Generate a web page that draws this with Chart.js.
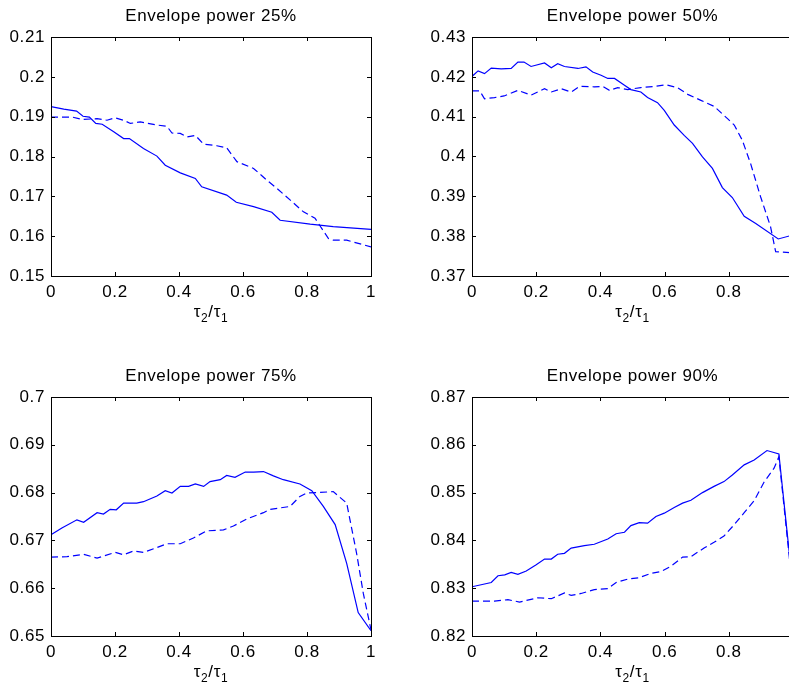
<!DOCTYPE html>
<html>
<head>
<meta charset="utf-8">
<script src="https://cdn.jsdelivr.net/npm/chart.js@4.4.1/dist/chart.umd.min.js"></script>
<style>
  html, body { margin: 0; padding: 0; background: #fff; overflow: hidden; width: 789px; height: 688px; }
  canvas { position: absolute; }
</style>
</head>
<body>
<canvas id="p25" width="400" height="340" style="left:0;top:0"></canvas>
<canvas id="p50" width="420" height="340" style="left:395px;top:0"></canvas>
<canvas id="p75" width="400" height="348" style="left:0;top:340px"></canvas>
<canvas id="p90" width="420" height="348" style="left:395px;top:340px"></canvas>
<script>
// ==================== DATA ====================
const titles = ["Envelope power 25%", "Envelope power 50%", "Envelope power 75%", "Envelope power 90%"];
const xTicks = [0, 0.2, 0.4, 0.6, 0.8, 1];
const yTicks25 = [0.15, 0.16, 0.17, 0.18, 0.19, 0.2, 0.21];
const yTicks50 = [0.37, 0.38, 0.39, 0.4, 0.41, 0.42, 0.43];
const yTicks75 = [0.65, 0.66, 0.67, 0.68, 0.69, 0.7];
const yTicks90 = [0.82, 0.83, 0.84, 0.85, 0.86, 0.87];

// 25%
const tau25Solid = [0, 0.04, 0.08, 0.10, 0.12, 0.14, 0.16, 0.196, 0.227, 0.245, 0.289, 0.331, 0.357, 0.404, 0.451, 0.471, 0.549, 0.579, 0.633, 0.69, 0.716, 0.81, 0.882, 1.0];
const env25Solid = [0.1925, 0.1919, 0.1914, 0.1901, 0.1899, 0.1883, 0.1881, 0.1862, 0.1845, 0.1845, 0.1820, 0.1801, 0.1778, 0.1759, 0.1745, 0.1724, 0.1703, 0.1685, 0.1674, 0.1660, 0.1640, 0.1630, 0.1624, 0.1617];
const tau25Dash = [0, 0.066, 0.097, 0.144, 0.175, 0.2, 0.227, 0.248, 0.279, 0.331, 0.362, 0.378, 0.404, 0.425, 0.451, 0.477, 0.518, 0.549, 0.581, 0.633, 0.674, 0.706, 0.747, 0.789, 0.825, 0.867, 0.882, 0.924, 1.0];
const env25Dash = [0.1899, 0.1899, 0.1893, 0.1895, 0.1891, 0.1897, 0.1891, 0.1883, 0.1887, 0.1879, 0.1876, 0.1859, 0.1858, 0.1849, 0.1853, 0.1831, 0.1827, 0.1822, 0.1787, 0.1770, 0.1741, 0.1720, 0.1691, 0.1661, 0.1645, 0.1594, 0.1590, 0.1590, 0.1573];

// 50%
const tau50Solid = [0, 0.019, 0.039, 0.06, 0.091, 0.122, 0.143, 0.162, 0.184, 0.226, 0.247, 0.267, 0.288, 0.33, 0.355, 0.376, 0.402, 0.423, 0.444, 0.475, 0.495, 0.526, 0.547, 0.578, 0.599, 0.63, 0.661, 0.687, 0.718, 0.749, 0.78, 0.811, 0.848, 0.884, 0.954, 1.0];
const env50Solid = [0.4201, 0.4215, 0.4208, 0.4222, 0.4220, 0.4221, 0.4237, 0.4237, 0.4226, 0.4235, 0.4223, 0.4233, 0.4226, 0.4221, 0.4225, 0.4212, 0.4204, 0.4196, 0.4196, 0.4179, 0.4168, 0.4162, 0.4148, 0.4135, 0.4116, 0.4079, 0.4053, 0.4033, 0.3999, 0.3970, 0.3922, 0.3897, 0.3850, 0.3832, 0.3793, 0.3803];
const tau50Dash = [0, 0.024, 0.039, 0.07, 0.10, 0.143, 0.184, 0.226, 0.247, 0.278, 0.309, 0.335, 0.381, 0.407, 0.428, 0.454, 0.485, 0.526, 0.568, 0.604, 0.64, 0.672, 0.713, 0.754, 0.796, 0.817, 0.842, 0.868, 0.899, 0.93, 0.946, 1.0];
const env50Dash = [0.4165, 0.4165, 0.4145, 0.4148, 0.4152, 0.4166, 0.4154, 0.4170, 0.4162, 0.4170, 0.4162, 0.4176, 0.4175, 0.4176, 0.4166, 0.4173, 0.4168, 0.4173, 0.4176, 0.4180, 0.4173, 0.4156, 0.4141, 0.4126, 0.4095, 0.4079, 0.4041, 0.3982, 0.3899, 0.3824, 0.3761, 0.3758];

// 75%
const tau75Solid = [0, 0.034, 0.081, 0.102, 0.144, 0.164, 0.185, 0.204, 0.227, 0.268, 0.289, 0.331, 0.357, 0.378, 0.404, 0.43, 0.451, 0.477, 0.497, 0.529, 0.549, 0.575, 0.607, 0.633, 0.664, 0.695, 0.726, 0.778, 0.815, 0.851, 0.888, 0.924, 0.96, 1.0];
const env75Solid = [0.6712, 0.6726, 0.6743, 0.6738, 0.6758, 0.6755, 0.6765, 0.6764, 0.6778, 0.6778, 0.6781, 0.6793, 0.6804, 0.6799, 0.6813, 0.6813, 0.6818, 0.6813, 0.6823, 0.6827, 0.6836, 0.6832, 0.6843, 0.6843, 0.6844, 0.6835, 0.6827, 0.6818, 0.6804, 0.6771, 0.6733, 0.6652, 0.6549, 0.6511];
const tau75Dash = [0, 0.05, 0.102, 0.144, 0.201, 0.227, 0.258, 0.289, 0.331, 0.362, 0.404, 0.445, 0.487, 0.539, 0.57, 0.612, 0.664, 0.685, 0.747, 0.778, 0.799, 0.882, 0.924, 0.955, 0.976, 1.0];
const env75Dash = [0.6665, 0.6666, 0.6671, 0.6663, 0.6675, 0.6670, 0.6678, 0.6675, 0.6685, 0.6693, 0.6693, 0.6705, 0.6720, 0.6722, 0.6730, 0.6745, 0.6758, 0.6765, 0.6771, 0.6792, 0.6799, 0.6802, 0.6778, 0.6673, 0.6589, 0.6513];

// 90%
const tau90Solid = [0, 0.06, 0.081, 0.102, 0.122, 0.143, 0.169, 0.2, 0.226, 0.247, 0.267, 0.288, 0.309, 0.35, 0.381, 0.423, 0.449, 0.475, 0.495, 0.521, 0.547, 0.573, 0.599, 0.63, 0.656, 0.682, 0.718, 0.754, 0.785, 0.811, 0.848, 0.879, 0.919, 0.956, 1.0];
const env90Solid = [0.8303, 0.8312, 0.8326, 0.8328, 0.8333, 0.8329, 0.8336, 0.8349, 0.8361, 0.8361, 0.8371, 0.8373, 0.8384, 0.8389, 0.8392, 0.8403, 0.8414, 0.8417, 0.8431, 0.8437, 0.8436, 0.8450, 0.8457, 0.8469, 0.8478, 0.8484, 0.8500, 0.8513, 0.8523, 0.8537, 0.8558, 0.8568, 0.8588, 0.8581, 0.8300];
const tau90Dash = [0, 0.07, 0.112, 0.148, 0.205, 0.247, 0.288, 0.309, 0.34, 0.381, 0.423, 0.449, 0.485, 0.521, 0.557, 0.589, 0.62, 0.656, 0.682, 0.723, 0.754, 0.785, 0.817, 0.848, 0.879, 0.91, 0.941, 0.956, 1.0];
const env90Dash = [0.8273, 0.8273, 0.8276, 0.8271, 0.8280, 0.8278, 0.8290, 0.8285, 0.8289, 0.8297, 0.8299, 0.8312, 0.8319, 0.8322, 0.8331, 0.8335, 0.8346, 0.8365, 0.8366, 0.8384, 0.8396, 0.8409, 0.8433, 0.8458, 0.8483, 0.8522, 0.8551, 0.8575, 0.8290];

// ==================== STYLE ====================
const FONT = "'Liberation Sans', Arial, Helvetica, sans-serif";
const BLUE = "#0000ff";

// MATLAB-like box: inward ticks on all four sides, black frame, title, tau2/tau1 label
const matlabBox = {
  id: "matlabBox",
  beforeDraw(chart) { chart.ctx.letterSpacing = "0.6px"; },
  afterDraw(chart) {
    const { ctx, chartArea: a, scales: { x, y } } = chart;
    ctx.save();
    ctx.strokeStyle = "#000";
    ctx.lineWidth = 1;
    ctx.beginPath();
    x.ticks.forEach(t => {
      const px = Math.round(x.getPixelForValue(t.value)) + 0.5;
      ctx.moveTo(px, a.bottom); ctx.lineTo(px, a.bottom - 4);
      ctx.moveTo(px, a.top); ctx.lineTo(px, a.top + 4);
    });
    y.ticks.forEach(t => {
      const py = Math.round(y.getPixelForValue(t.value)) + 0.5;
      ctx.moveTo(a.left, py); ctx.lineTo(a.left + 4, py);
      ctx.moveTo(a.right, py); ctx.lineTo(a.right - 4, py);
    });
    ctx.stroke();
    ctx.strokeRect(Math.round(a.left) + 0.5, Math.round(a.top) + 0.5,
                   Math.round(a.right - a.left), Math.round(a.bottom - a.top));

    ctx.fillStyle = "#000";
    const cxMid = (a.left + a.right) / 2;

    // title, centred over the axes box
    ctx.font = "17px " + FONT;
    ctx.textAlign = "center";
    ctx.textBaseline = "middle";
    ctx.fillText(chart.options.plugins.matlabBox.title, cxMid, a.top - 21);

    // x label with subscripts
    const parts = [["τ", 17, 0], ["2", 12, 5], ["/", 17, 0], ["τ", 17, 0], ["1", 12, 5]];
    ctx.textBaseline = "alphabetic";
    ctx.textAlign = "left";
    let w = 0;
    parts.forEach(p => { ctx.font = p[1] + "px " + FONT; w += ctx.measureText(p[0]).width; });
    let cx = cxMid - w / 2;
    const base = a.bottom + 41;
    parts.forEach(p => {
      ctx.font = p[1] + "px " + FONT;
      ctx.fillText(p[0], cx, base + p[2]);
      cx += ctx.measureText(p[0]).width;
    });
    ctx.restore();
  }
};

const fmt = v => String(+Number(v).toFixed(3));

function makePanel(id, title, yTicks, solidX, solidY, dashX, dashY, area) {
  const canvas = document.getElementById(id);
  const W = canvas.width, H = canvas.height;
  const pts = (xs, ys) => xs.map((x, i) => ({ x: x, y: ys[i] }));
  return new Chart(canvas, {
    type: "line",
    data: {
      datasets: [
        { data: pts(solidX, solidY), borderColor: BLUE, borderWidth: 1.2, pointRadius: 0, tension: 0 },
        { data: pts(dashX, dashY), borderColor: BLUE, borderWidth: 1.2, borderDash: [7, 4], pointRadius: 0, tension: 0 }
      ]
    },
    options: {
      responsive: false,
      animation: false,
      events: [],
      layout: { padding: { top: area.top, left: 0, bottom: 0, right: W - area.right } },
      plugins: {
        legend: { display: false },
        tooltip: { enabled: false },
        title: { display: false },
        matlabBox: { title: title }
      },
      scales: {
        x: {
          type: "linear",
          min: 0, max: 1,
          grid: { display: false, drawTicks: false },
          border: { display: false },
          ticks: { color: "#000", padding: 6, maxRotation: 0, font: { family: FONT, size: 17 }, callback: fmt },
          afterBuildTicks: s => { s.ticks = xTicks.map(v => ({ value: v })); },
          afterFit: s => { s.height = H - area.bottom; }
        },
        y: {
          min: yTicks[0], max: yTicks[yTicks.length - 1],
          grid: { display: false, drawTicks: false },
          border: { display: false },
          ticks: { color: "#000", padding: 6, font: { family: FONT, size: 17 }, callback: fmt },
          afterBuildTicks: s => { s.ticks = yTicks.map(v => ({ value: v })); },
          afterFit: s => { s.width = area.left; }
        }
      }
    },
    plugins: [matlabBox]
  });
}

// ==================== INIT ====================
makePanel("p25", titles[0], yTicks25, tau25Solid, env25Solid, tau25Dash, env25Dash, { left: 51, top: 37, right: 371, bottom: 276 });
makePanel("p50", titles[1], yTicks50, tau50Solid, env50Solid, tau50Dash, env50Dash, { left: 77, top: 37, right: 398, bottom: 276 });
makePanel("p75", titles[2], yTicks75, tau75Solid, env75Solid, tau75Dash, env75Dash, { left: 51, top: 57, right: 371, bottom: 296 });
makePanel("p90", titles[3], yTicks90, tau90Solid, env90Solid, tau90Dash, env90Dash, { left: 77, top: 57, right: 398, bottom: 296 });
</script>
</body>
</html>
